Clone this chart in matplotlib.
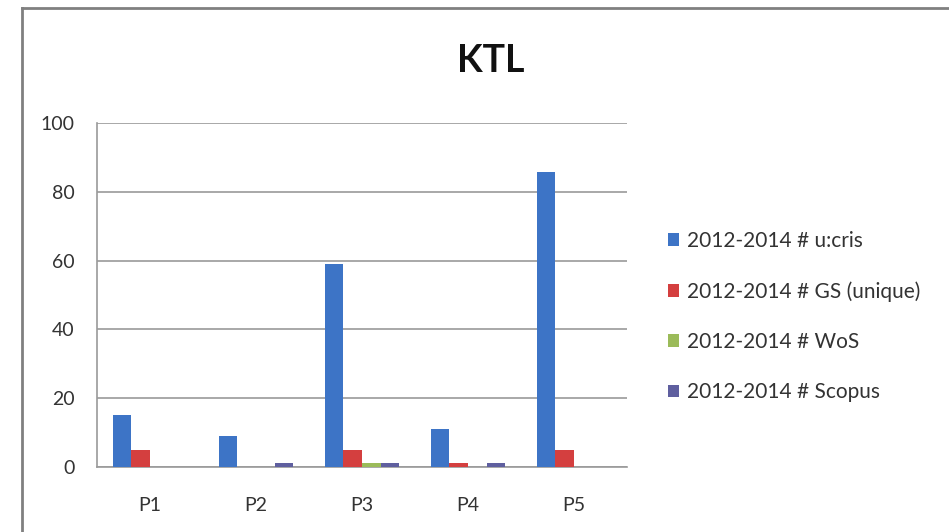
import matplotlib
matplotlib.use("Agg")
import matplotlib.pyplot as plt
import numpy as np
from matplotlib.patches import Patch
from matplotlib.lines import Line2D

categories = ["P1", "P2", "P3", "P4", "P5"]
series_names = ["2012-2014 # u:cris", "2012-2014 # GS (unique)",
                "2012-2014 # WoS", "2012-2014 # Scopus"]
ucris = [15, 9, 59, 11, 86]
gs_unique = [5, 0, 5, 1, 5]
wos = [0, 0, 1, 0, 0]
scopus = [0, 1, 1, 1, 0]
yticks = [0, 20, 40, 60, 80, 100]
title = "KTL"

colors = ["#3D74C6", "#D43F3F", "#9BBB59", "#5F5F9F"]

plt.rcParams['font.family'] = ['Lato', 'DejaVu Sans']

fig = plt.figure(figsize=(9.49, 5.32), dpi=100)
ax = fig.add_axes([0.1022, 0.1227, 0.5585, 0.6452])

x = np.arange(len(categories))
bw = 0.175
data = [ucris, gs_unique, wos, scopus]
for i, (vals, c) in enumerate(zip(data, colors)):
    ax.bar(x + (i - 1.5) * bw, vals, width=bw, color=c, zorder=3)

ax.set_xlim(-0.5, len(categories) - 0.5)
ax.set_ylim(0, 100)
ax.set_yticks(yticks)
ax.set_xticks(x)
ax.set_xticklabels(categories)
ax.grid(axis='y', color='#9a9a9a', linewidth=1.2, zorder=0)
ax.tick_params(axis='y', length=0, pad=16, labelsize=14, labelcolor='#333333')
ax.tick_params(axis='x', length=0, pad=22, labelsize=14, labelcolor='#333333')
for s in ['top', 'right']:
    ax.spines[s].set_visible(False)
for s in ['left', 'bottom']:
    ax.spines[s].set_color('#9a9a9a')
    ax.spines[s].set_linewidth(1.2)

fig.text(0.517, 0.885, title, ha='center', va='center', fontsize=27,
         fontweight='bold', color='#111111')

handles = [Patch(facecolor=c, edgecolor='none') for c in colors]
fig.legend(handles, series_names, loc='center left',
           bbox_to_anchor=(0.695, 0.405), frameon=False, fontsize=15,
           handlelength=0.55, handleheight=0.55, handletextpad=0.35,
           labelspacing=1.45, labelcolor='#333333', borderaxespad=0)

# outer chart frame
fig.add_artist(Line2D([22/949, 22/949], [0, 1 - 8/532], transform=fig.transFigure,
                      color='#808080', linewidth=2))
fig.add_artist(Line2D([22/949, 1], [1 - 8/532, 1 - 8/532], transform=fig.transFigure,
                      color='#808080', linewidth=2))

fig.savefig("out.png", dpi=100)
